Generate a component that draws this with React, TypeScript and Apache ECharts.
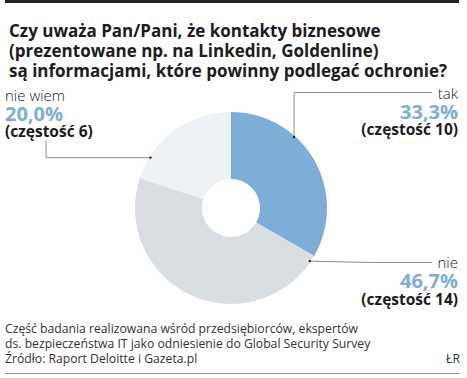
import React, { useEffect, useRef } from "react";
import * as echarts from "echarts";

const categories = ["tak", "nie", "nie wiem"];
const frequencies = [10, 14, 6];
const percentLabels = ["33,3%", "46,7%", "20,0%"];
const sliceColors = ["#7caed7", "#d9dee3", "#edf1f5"];

const titleText =
  "Czy uważa Pan/Pani, że kontakty biznesowe\n(prezentowane np. na Linkedin, Goldenline)\nsą informacjami, które powinny podlegać ochronie?";
const noteLines = [
  "Część badania realizowana wśród przedsiębiorców, ekspertów",
  "ds. bezpieczeństwa IT jako odniesienie do Global Security Survey",
];
const sourceText = "Źródło: Raport Deloitte i Gazeta.pl";
const authorText = "ŁR";

const CX = 231;
const CY = 208;
const R_IN = 29;
const R_OUT = 96;
// anchor angles (degrees, counter-clockwise from +x) for the leader lines
const anchorAngles = [48.4, -34, 148];

function anchor(i: number) {
  const a = (anchorAngles[i] * Math.PI) / 180;
  const r = R_OUT - 1;
  return [CX + r * Math.cos(a), CY - r * Math.sin(a)];
}

export default function App() {
  const ref = useRef<HTMLDivElement>(null);
  useEffect(() => {
    if (!ref.current) return;
    const chart = echarts.init(ref.current, undefined, { renderer: "svg" });
    const font = "'Open Sans', Roboto, sans-serif";
    const data = categories.map((c, i) => ({
      name: c,
      value: frequencies[i],
      itemStyle: { color: sliceColors[i] },
    }));
    const dots = categories.map((_, i) => {
      const p = anchor(i);
      return {
        type: "circle",
        shape: { cx: p[0], cy: p[1], r: 1.2 },
        style: { fill: "#222" },
        z: 100,
      };
    });
    const foot = (text: string, x: number, y: number, align = "left") => ({
      type: "text",
      x,
      y,
      style: {
        text,
        font: `12.2px ${font}`,
        fill: "#333",
        textAlign: align,
        textVerticalAlign: "middle",
      },
    });
    chart.setOption({
      animation: false,
      backgroundColor: "#ffffff",
      title: {
        text: titleText,
        left: 4,
        top: 15,
        textStyle: {
          fontFamily: font,
          fontWeight: "bold",
          fontSize: 17,
          lineHeight: 20,
          color: "#1c1c1c",
        },
      },
      graphic: [
        {
          type: "rect",
          shape: { x: 5, y: 0, width: 454, height: 3 },
          style: { fill: "#262626" },
        },
        {
          type: "line",
          shape: { x1: 5, y1: 373.5, x2: 460, y2: 373.5 },
          style: { stroke: "#9a9a9a", lineWidth: 1 },
        },
        foot(noteLines[0], 5, 328),
        foot(noteLines[1], 5, 343),
        foot(sourceText, 5, 358),
        foot(authorText, 460, 358, "right"),
        ...dots,
      ],
      series: [
        {
          type: "pie",
          center: [CX, CY],
          radius: [R_IN, R_OUT],
          startAngle: 90,
          clockwise: true,
          data,
          label: {
            show: true,
            position: "outside",
            overflow: "none",
            width: 200,
            fontFamily: font,
            formatter: (p: any) =>
              `{n|${p.name}}\n{p|${percentLabels[p.dataIndex]}}\n{f|(częstość ${frequencies[p.dataIndex]})}`,
            rich: {
              n: { fontFamily: font, fontSize: 15, fontWeight: 300, color: "#222", lineHeight: 16.5 },
              p: { fontFamily: font, fontSize: 20, fontWeight: "bold", color: "#7caed7", lineHeight: 20 },
              f: { fontFamily: font, fontSize: 15.5, fontWeight: "bold", color: "#1c1c1c", lineHeight: 16.5 },
            },
          },
          labelLine: {
            show: true,
            lineStyle: { color: "#8c8c8c", width: 1 },
          },
          labelLayout: (params: any) => {
            const i = params.dataIndex;
            const a = anchor(i);
            if (i === 0) {
              return {
                x: 458,
                y: 84.5,
                align: "right",
                verticalAlign: "top",
                labelLinePoints: [
                  [a[0], a[1]],
                  [a[0], 92.5],
                  [432, 92.5],
                ],
              };
            } else if (i === 1) {
              return {
                x: 458,
                y: 254,
                align: "right",
                verticalAlign: "top",
                labelLinePoints: [
                  [a[0], a[1]],
                  [(a[0] + 432) / 2, 262.5],
                  [432, 262.5],
                ],
              };
            }
            return {
              x: 5,
              y: 86.5,
              align: "left",
              verticalAlign: "top",
              labelLinePoints: [
                [a[0], a[1]],
                [46, a[1]],
                [46, 140],
              ],
            };
          },
          emphasis: { disabled: true },
        },
      ],
    });
    return () => chart.dispose();
  }, []);
  return (
    <div
      ref={ref}
      style={{ position: "absolute", left: 0, top: 0, width: 467, height: 378 }}
    />
  );
}
